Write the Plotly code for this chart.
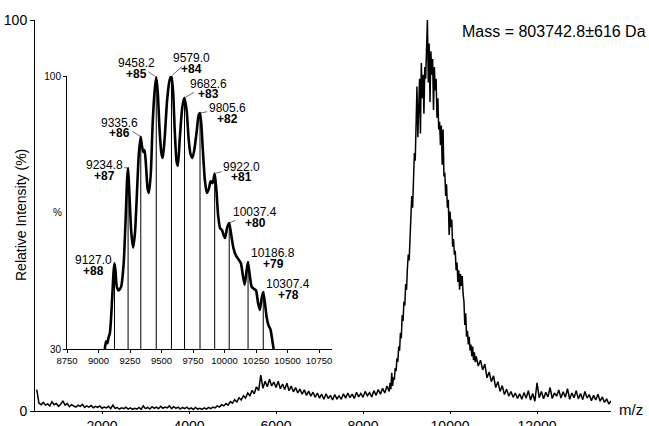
import plotly.graph_objects as go

# ---------------- data ----------------
# main spectrum (m/z, relative intensity %)
main_points = [
    (500, 5.5), (550, 2.0), (600, 1.6), (650, 2.2), (700, 1.5), (750, 1.8), (800, 1.3), (850, 2.4),
    (900, 1.6), (950, 1.9), (1000, 1.2), (1050, 1.7), (1100, 2.6), (1150, 1.5), (1200, 1.9), (1250, 1.1),
    (1300, 1.6), (1350, 1.4), (1400, 1.0), (1450, 1.5), (1500, 1.2), (1550, 1.7), (1600, 0.9), (1650, 1.3),
    (1700, 1.0), (1750, 1.4), (1800, 0.8), (1850, 1.2), (1900, 0.9), (1950, 1.3), (2000, 0.7), (2050, 1.0),
    (2100, 0.8), (2150, 1.2), (2200, 0.6), (2250, 1.5), (2300, 0.7), (2350, 0.9), (2400, 0.5), (2450, 0.8),
    (2500, 0.6), (2550, 1.0), (2600, 0.5), (2650, 0.8), (2700, 0.4), (2750, 0.7), (2800, 0.5), (2850, 0.9),
    (2900, 0.4), (2950, 1.3), (3000, 0.6), (3050, 0.9), (3100, 0.5), (3150, 1.1), (3200, 0.7), (3250, 1.0),
    (3300, 0.6), (3350, 1.2), (3400, 0.7), (3450, 1.0), (3500, 0.8), (3550, 1.3), (3600, 0.6), (3650, 1.1),
    (3700, 0.7), (3750, 1.0), (3800, 0.5), (3850, 0.9), (3900, 0.6), (3950, 1.0), (4000, 0.5), (4050, 0.8),
    (4100, 0.4), (4150, 0.9), (4200, 0.5), (4250, 0.7), (4300, 0.4), (4350, 0.8), (4400, 0.5), (4450, 0.9),
    (4500, 0.6), (4550, 1.0), (4600, 0.8), (4650, 1.3), (4700, 1.0), (4750, 1.6), (4800, 1.3), (4850, 1.9),
    (4900, 1.5), (4950, 2.4), (5000, 2.0), (5050, 2.9), (5100, 2.3), (5150, 3.4), (5200, 2.8), (5250, 3.9),
    (5300, 3.3), (5350, 4.6), (5400, 3.9), (5450, 5.3), (5500, 4.4), (5550, 6.2), (5600, 5.2), (5650, 9.2),
    (5700, 5.8), (5750, 7.6), (5800, 6.2), (5850, 8.1), (5900, 6.4), (5950, 7.4), (6000, 6.0), (6050, 7.6),
    (6100, 5.7), (6150, 6.9), (6200, 5.5), (6250, 7.1), (6300, 5.2), (6350, 6.4), (6400, 4.9), (6450, 6.0),
    (6500, 4.6), (6550, 5.6), (6600, 4.3), (6650, 5.4), (6700, 4.0), (6750, 5.1), (6800, 3.8), (6850, 4.8),
    (6900, 3.5), (6950, 4.6), (7000, 3.3), (7050, 4.3), (7100, 3.0), (7150, 4.4), (7200, 3.2), (7250, 4.0),
    (7300, 2.8), (7350, 4.2), (7400, 3.1), (7450, 3.9), (7500, 3.0), (7550, 4.4), (7600, 3.3), (7650, 4.6),
    (7700, 3.4), (7750, 4.3), (7800, 3.2), (7850, 4.8), (7900, 3.6), (7950, 4.5), (8000, 3.5), (8050, 5.0),
    (8100, 3.9), (8150, 4.7), (8200, 3.6), (8250, 5.2), (8300, 4.0), (8350, 5.5), (8400, 4.3), (8450, 5.8),
    (8500, 4.6), (8550, 6.4),
    (8600, 5.0), (8620, 7.2), (8640, 5.6), (8660, 9.8), (8680, 6.4), (8700, 8.6), (8720, 8.0), (8740, 11.0),
    (8760, 10.2), (8780, 13.5), (8800, 12.6), (8820, 16.5), (8840, 15.4), (8860, 20.0), (8880, 18.6), (8900, 24.5),
    (8920, 23.0), (8940, 28.0), (8960, 27.0), (8980, 32.5), (9000, 31.0), (9020, 36.5), (9040, 40.0), (9060, 38.5),
    (9080, 46.0), (9100, 50.0), (9120, 55.0), (9140, 52.0), (9160, 60.0), (9180, 66.0), (9200, 64.0), (9220, 72.0),
    (9240, 83.0), (9260, 70.0), (9280, 82.0), (9300, 85.0), (9320, 71.0), (9340, 89.0), (9360, 80.0), (9380, 86.0),
    (9400, 76.0), (9420, 88.0), (9440, 85.0), (9460, 93.0), (9480, 100.0), (9500, 84.0), (9520, 94.0), (9540, 79.0),
    (9560, 92.0), (9580, 86.0), (9600, 90.0), (9620, 77.0), (9640, 88.0), (9660, 82.0), (9680, 85.0), (9700, 75.0),
    (9720, 80.0), (9740, 72.0), (9760, 74.0), (9780, 68.0), (9800, 73.0), (9820, 63.0), (9840, 72.0), (9860, 60.0),
    (9880, 61.0), (9900, 55.0), (9920, 58.0), (9940, 52.0), (9960, 54.0), (9980, 45.0), (10000, 51.0), (10020, 47.0),
    (10040, 49.0), (10060, 42.0), (10080, 44.0), (10100, 40.0), (10120, 41.0), (10140, 36.0), (10160, 38.0),
    (10180, 33.0), (10200, 36.0), (10220, 31.0), (10240, 35.0), (10260, 32.0), (10280, 34.5), (10300, 30.0),
    (10320, 28.0), (10340, 22.0), (10360, 25.0), (10380, 19.0), (10400, 20.5), (10420, 17.0), (10440, 19.0),
    (10460, 15.5), (10480, 17.0), (10500, 14.0), (10520, 16.5), (10540, 13.0), (10560, 15.0), (10580, 12.5),
    (10600, 14.0), (10650, 11.5), (10700, 13.0), (10750, 10.5), (10800, 12.0), (10850, 8.5), (10900, 10.0),
    (10950, 7.5), (11000, 9.0), (11050, 6.0), (11100, 7.5), (11150, 5.0), (11200, 6.5), (11250, 4.2),
    (11300, 5.6), (11350, 3.8), (11400, 5.0), (11450, 3.5), (11500, 4.6), (11550, 3.2), (11600, 4.4),
    (11650, 3.0), (11700, 4.7), (11750, 3.3), (11800, 5.2), (11850, 2.8), (11900, 4.5), (11950, 2.5),
    (12000, 7.2), (12050, 3.4), (12100, 5.0), (12150, 3.1), (12200, 4.8), (12250, 3.6), (12300, 6.0),
    (12350, 3.2), (12400, 4.6), (12450, 3.8), (12500, 5.4), (12550, 3.3), (12600, 4.9), (12650, 3.5),
    (12700, 5.7), (12750, 3.0), (12800, 4.6), (12850, 3.4), (12900, 5.2), (12950, 3.1), (13000, 4.5),
    (13050, 2.9), (13100, 5.0), (13150, 3.3), (13200, 4.2), (13250, 2.6), (13300, 4.0), (13350, 2.8),
    (13400, 4.3), (13450, 2.5), (13500, 3.6), (13550, 2.2), (13600, 3.1), (13650, 1.8), (13700, 2.6),
]

# inset (charge-state envelope), relative intensity %
inset_points = [
    (9050, 30), (9060, 32), (9070, 31.5), (9080, 33), (9090, 34), (9100, 38), (9110, 44), (9120, 50),
    (9127, 52), (9135, 50), (9145, 46), (9160, 45), (9180, 46), (9200, 52), (9215, 63), (9228, 74),
    (9235, 76.4), (9245, 70), (9260, 60), (9275, 56), (9290, 60), (9305, 70), (9320, 80), (9335, 84.4),
    (9345, 82), (9355, 80.5), (9365, 81), (9375, 78), (9390, 71), (9400, 70), (9415, 75), (9430, 88),
    (9445, 96), (9458, 99.7), (9470, 96), (9485, 86), (9500, 80), (9510, 79), (9525, 84), (9545, 94),
    (9565, 99), (9579, 100), (9592, 96), (9605, 86), (9620, 78), (9630, 77), (9645, 84), (9665, 92),
    (9682, 94.4), (9700, 91), (9715, 84), (9730, 80), (9745, 79), (9760, 81), (9780, 86), (9795, 90),
    (9805, 90.5), (9815, 88), (9830, 80), (9845, 73), (9860, 70), (9875, 71), (9890, 73), (9905, 72.5),
    (9922, 75), (9935, 71), (9950, 64), (9965, 61), (9980, 60.5), (9995, 59), (10005, 58.5), (10020, 61),
    (10037, 62.3), (10050, 60), (10070, 56), (10090, 54), (10110, 53), (10130, 52), (10145, 49),
    (10160, 46.5), (10175, 50), (10186, 52.3), (10200, 49), (10215, 46), (10230, 45.5), (10250, 45),
    (10265, 42), (10280, 40), (10295, 43), (10307, 44.6), (10320, 42), (10335, 38), (10350, 36),
    (10365, 35), (10380, 32), (10390, 30),
]

peak_mz = [9127.0, 9234.8, 9335.6, 9458.2, 9579.0, 9682.6, 9805.6, 9922.0, 10037.4, 10186.8, 10307.4]
peak_height = [52.0, 76.4, 84.4, 99.7, 100.0, 94.4, 90.5, 75.0, 62.3, 52.3, 44.6]
peak_charge = [88, 87, 86, 85, 84, 83, 82, 81, 80, 79, 78]

main_xticks = [2000, 4000, 6000, 8000, 10000, 12000]
inset_xticks = [8750, 9000, 9250, 9500, 9750, 10000, 10250, 10500, 10750]
mass_text = "Mass = 803742.8±616 Da"

# label offsets (pixels) for the peak annotations: layout only
label_offsets = [(-21, -3), (-24, -3), (-21, -14), (-20, -14), (20, -18), (24, -14),
                 (27, -5), (27, -7), (26, -11), (25, -9), (25, -8)]

# ---------------- figure ----------------
W, H = 649, 426
FONT = "Liberation Sans, Arial, Helvetica, sans-serif"

mx = [p[0] for p in main_points]
my = [p[1] for p in main_points]
ix = [p[0] for p in inset_points]
iy = [p[1] for p in inset_points]

fig = go.Figure()
fig.add_trace(go.Scatter(x=mx, y=my, mode="lines", line=dict(color="black", width=1.5),
                         xaxis="x", yaxis="y", hoverinfo="skip"))

# vertical peak lines in inset
vx, vy = [], []
for m, h in zip(peak_mz, peak_height):
    vx += [m, m, None]
    vy += [30, h, None]
fig.add_trace(go.Scatter(x=vx, y=vy, mode="lines", line=dict(color="black", width=1),
                         xaxis="x2", yaxis="y2", hoverinfo="skip"))
fig.add_trace(go.Scatter(x=ix, y=iy, mode="lines", line=dict(color="black", width=2.6, shape="spline", smoothing=0.6),
                         xaxis="x2", yaxis="y2", hoverinfo="skip"))

def px(v, total):
    return v / total

annotations = []
for m, h, z, (ax, ay) in zip(peak_mz, peak_height, peak_charge, label_offsets):
    annotations.append(dict(x=m, y=h, xref="x2", yref="y2", text=f"{m:.1f}", showarrow=True,
                            ax=ax, ay=ay, arrowhead=0, arrowwidth=0.8, arrowcolor="#444",
                            standoff=1, font=dict(family=FONT, size=12, color="black")))
    annotations.append(dict(x=m, y=h, xref="x2", yref="y2", text=f"<b>+{z}</b>", showarrow=False,
                            xshift=ax, yshift=-(ay + 10.5), font=dict(family=FONT, size=12, color="black")))

annotations += [
    dict(x=px(648, W), y=1 - px(32, H), xref="paper", yref="paper", text=mass_text, showarrow=False,
         xanchor="right", yanchor="middle", font=dict(family=FONT, size=16, color="black")),
    dict(x=px(617, W), y=1 - px(409, H), xref="paper", yref="paper", text="m/z", showarrow=False,
         xanchor="left", yanchor="middle", font=dict(family=FONT, size=15, color="black")),
    dict(x=px(21, W), y=1 - px(215, H), xref="paper", yref="paper", text="Relative Intensity (%)",
         showarrow=False, textangle=-90, xanchor="center", yanchor="middle",
         font=dict(family=FONT, size=14, color="black")),
    dict(x=px(58, W), y=1 - px(212, H), xref="paper", yref="paper", text="%", showarrow=False,
         xanchor="center", yanchor="middle", font=dict(family=FONT, size=10, color="black")),
]

axis_common = dict(showgrid=False, zeroline=False, showline=True, linecolor="black", linewidth=1,
                   ticks="outside", tickcolor="black", tickwidth=1, tickformat="d", automargin=False)

fig.update_layout(
    width=W, height=H, autosize=False,
    margin=dict(l=0, r=0, t=0, b=0, pad=0),
    paper_bgcolor="white", plot_bgcolor="white",
    showlegend=False,
    xaxis=dict(domain=[px(35, W), px(611, W)], range=[460, 13700], anchor="y",
               tickvals=main_xticks, ticklen=2, tickfont=dict(family=FONT, size=14, color="black"),
               **axis_common),
    yaxis=dict(domain=[px(H - 411, H), px(H - 20, H)], range=[0, 100], anchor="x",
               tickvals=[0, 100], ticklen=4, tickfont=dict(family=FONT, size=14, color="black"),
               **axis_common),
    xaxis2=dict(domain=[px(67, W), px(332, W)], range=[8750, 10853], anchor="y2",
                tickvals=inset_xticks, ticklen=3, tickfont=dict(family=FONT, size=9.5, color="black"),
                **axis_common),
    yaxis2=dict(domain=[px(H - 349, H), px(H - 76, H)], range=[30, 100], anchor="x2",
                tickvals=[30, 100], ticklen=3, tickfont=dict(family=FONT, size=10, color="black"),
                **axis_common),
    annotations=annotations,
)

fig.write_html("out.html", config={"displayModeBar": False},
               post_script="document.body.style.margin='0px';")
